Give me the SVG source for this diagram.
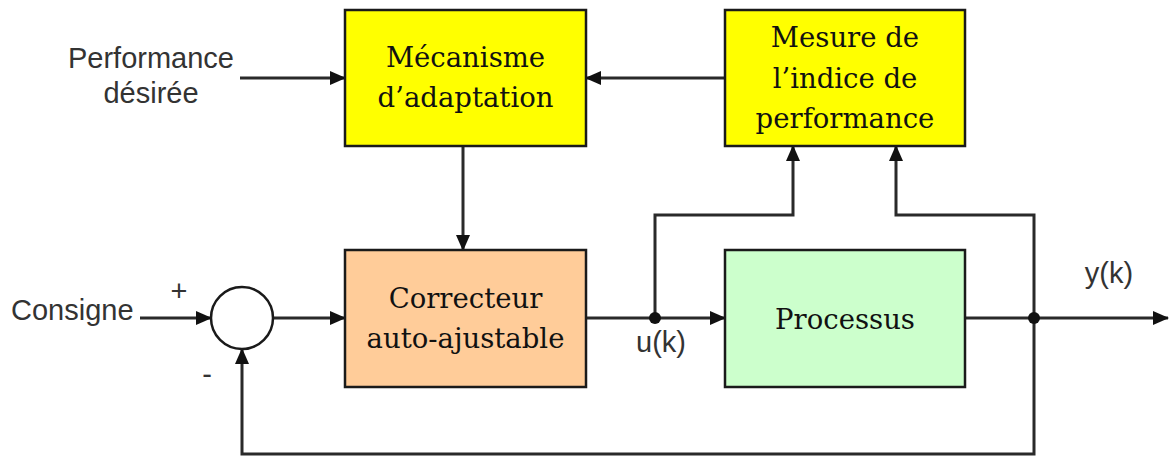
<svg xmlns="http://www.w3.org/2000/svg" width="1170" height="457" viewBox="0 0 1170 457">
<style>
.box{stroke:#1a1a1a;stroke-width:2.5}
.lbl{font-family:"DejaVu Serif","Liberation Serif",serif;font-size:27.5px;fill:#111;text-anchor:middle}
.sans{font-family:"Liberation Sans",Arial,sans-serif;font-size:29px;fill:#333}
.wire{fill:none;stroke:#2a2a2a;stroke-width:3}
</style>
<defs>
<marker id="ah" markerUnits="userSpaceOnUse" markerWidth="16" markerHeight="14" refX="15" refY="7" orient="auto">
<path d="M0,0 L16,7 L0,14 Z" fill="#111"/>
</marker>
</defs>
<rect width="1170" height="457" fill="#fff"/>
<g id="connectors">
<path class="wire" d="M240,78 H345" marker-end="url(#ah)"/>
<path class="wire" d="M725,78 H586" marker-end="url(#ah)"/>
<path class="wire" d="M463,146 V250" marker-end="url(#ah)"/>
<path class="wire" d="M140,318 H211" marker-end="url(#ah)"/>
<path class="wire" d="M273,318 H345" marker-end="url(#ah)"/>
<path class="wire" d="M586,318 H725" marker-end="url(#ah)"/>
<path class="wire" d="M655,318 V215 H793 V146" marker-end="url(#ah)"/>
<path class="wire" d="M965,318 H1168" marker-end="url(#ah)"/>
<path class="wire" d="M1034,318 V215 H896 V146" marker-end="url(#ah)"/>
<path class="wire" d="M1034,318 V454 H242 V349" marker-end="url(#ah)"/>
<circle cx="655" cy="318" r="6" fill="#111"/>
<circle cx="1034" cy="318" r="6" fill="#111"/>
</g>
<g id="perf-label">
<text class="sans" x="151" y="68" text-anchor="middle">Performance</text>
<text class="sans" x="151" y="103" text-anchor="middle">désirée</text>
</g>
<g id="consigne-label">
<text class="sans" x="11" y="320">Consigne</text>
<text class="sans" x="179" y="301" text-anchor="middle" font-size="20">+</text>
<text class="sans" x="207" y="384" text-anchor="middle" font-size="20">-</text>
</g>
<g id="mecanisme">
<rect class="box" x="345" y="10" width="241" height="136" fill="#ffff00"/>
<text class="lbl" x="465.5" y="67">Mécanisme</text>
<text class="lbl" x="465.5" y="107">d’adaptation</text>
</g>
<g id="mesure">
<rect class="box" x="725" y="10" width="240" height="136" fill="#ffff00"/>
<text class="lbl" x="845" y="47">Mesure de</text>
<text class="lbl" x="845" y="88">l’indice de</text>
<text class="lbl" x="845" y="128">performance</text>
</g>
<g id="sommateur">
<circle cx="242" cy="318" r="31" fill="#fff" stroke="#1a1a1a" stroke-width="2.5"/>
</g>
<g id="correcteur">
<rect class="box" x="345" y="250" width="241" height="137" fill="#ffcc99"/>
<text class="lbl" x="465.5" y="308">Correcteur</text>
<text class="lbl" x="465.5" y="348">auto-ajustable</text>
</g>
<g id="processus">
<rect class="box" x="725" y="250" width="240" height="137" fill="#ccffcc"/>
<text class="lbl" x="845" y="329">Processus</text>
</g>
<g id="signals">
<text class="sans" x="661" y="352" text-anchor="middle">u(k)</text>
<text class="sans" x="1109" y="283" text-anchor="middle">y(k)</text>
</g>
</svg>
